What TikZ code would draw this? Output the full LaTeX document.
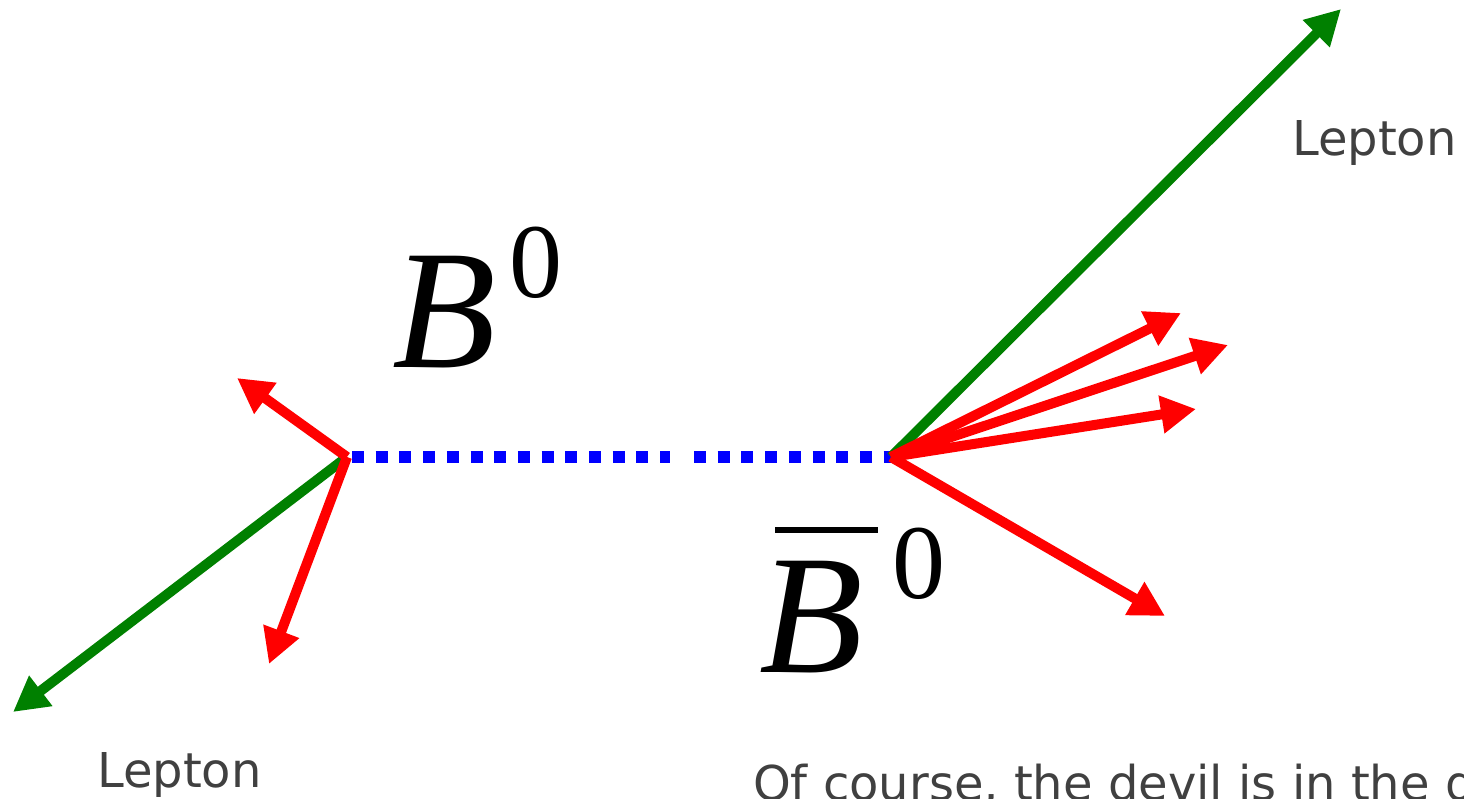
\documentclass[tikz,border=0pt]{standalone}
\usepackage{fontspec}
\setmainfont{DejaVu Sans}
\newfontfamily\timesf{Liberation Serif}
\usetikzlibrary{arrows.meta}
\definecolor{txtgray}{HTML}{404040}
\definecolor{dgreen}{HTML}{008000}
\tikzset{
  lbl/.style={anchor=base west, inner sep=0pt, text=txtgray, font=\fontsize{48}{56}\selectfont},
  bigB/.style={anchor=base west, inner sep=0pt, font=\fontsize{170}{200}\timesf\itshape},
  sup/.style={anchor=base west, inner sep=0pt, font=\fontsize{106}{130}\timesf},
  vec/.style={line width=10pt, -{Triangle[length=35pt,width=36pt]}},
  lep/.style={vec, draw=dgreen, fill=dgreen},
  had/.style={vec, draw=red, fill=red},
  bline/.style={draw=blue, line width=12pt, dash pattern=on 12pt off 11.7pt}
}
\begin{document}
\begin{tikzpicture}[x=1pt,y=-1pt]
\useasboundingbox (0,0) rectangle (1464,798);
% vertices
\coordinate (L) at (347,457);
\coordinate (R) at (891,457);
\coordinate (gapA) at (670,457);
\coordinate (gapB) at (694,457);
% tips
\coordinate (tL1) at (13,712);
\coordinate (tL2) at (237,378);
\coordinate (tL3) at (269,664);
\coordinate (tR0) at (1341,9);
\coordinate (tR1) at (1181,313);
\coordinate (tR2) at (1228,345);
\coordinate (tR3) at (1196,409);
\coordinate (tR4) at (1165,616);
% blue dotted B line
\draw[bline] ([xshift=5pt]L) -- (gapA);
\draw[bline] (gapB) -- (R);
% leptons
\draw[lep] (L) -- (tL1);
\draw[lep] (R) -- (tR0);
% hadrons
\draw[had] (L) -- (tL2);
\draw[had] (L) -- (tL3);
\draw[had] (R) -- (tR1);
\draw[had] (R) -- (tR2);
\draw[had] (R) -- (tR3);
\draw[had] (R) -- (tR4);
% labels
\node[bigB] (B0) at (392,367) {B};
\node[sup] (B0s) at (509,297) {0};
\node[bigB] (Bb) at (759,672) {B};
\node[sup] (Bbs) at (892,598) {0};
\draw[line width=6pt] (775,530) -- (878,530);
\node[lbl] (lepR) at (1292,155) {Lepton};
\node[lbl] (lepL) at (97,787) {Lepton};
\node[lbl] (note) at (753,800) {Of course, the devil is in the d};
\end{tikzpicture}
\end{document}
